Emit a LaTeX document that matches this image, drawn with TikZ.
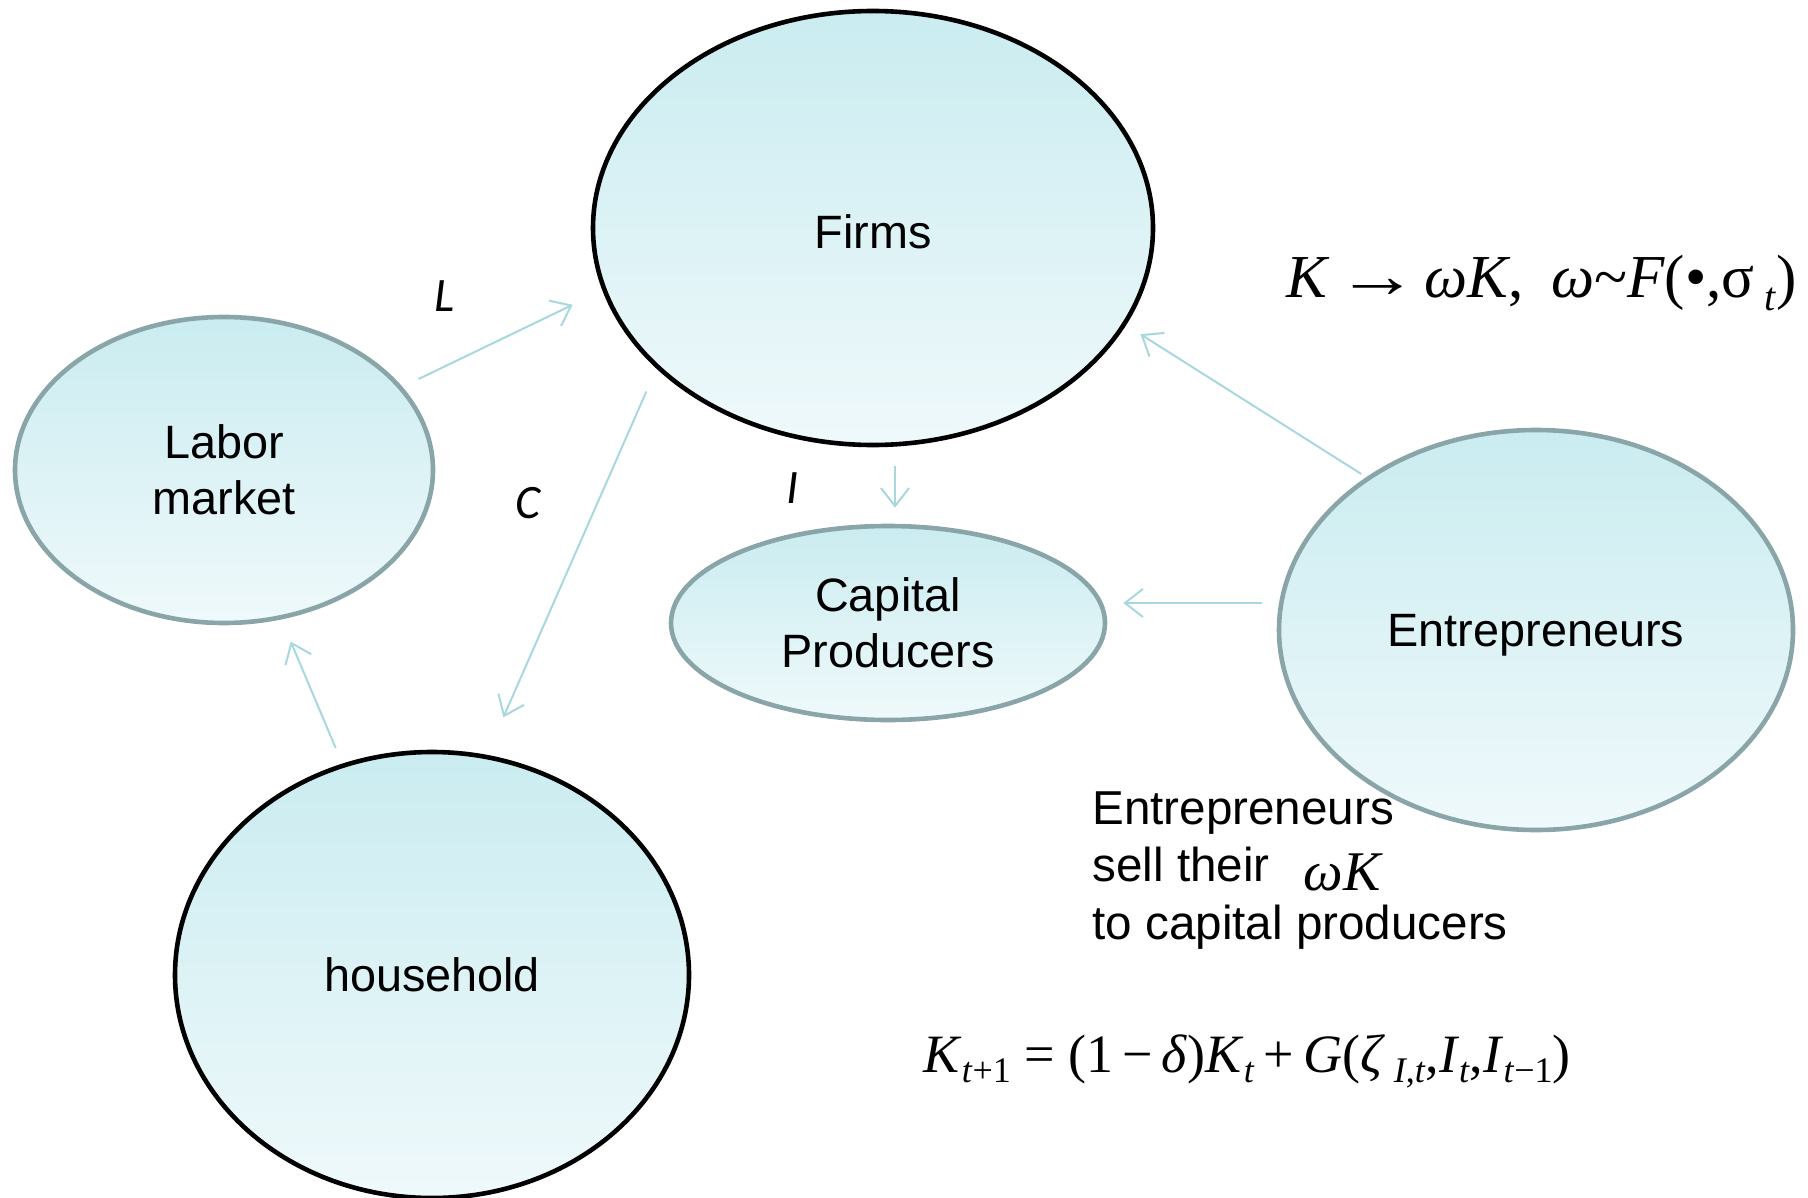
\documentclass[tikz,border=0pt]{standalone}
\usepackage{graphicx}
\usepackage{fontspec}
\setmainfont{Liberation Sans}
\newfontfamily\tms{Liberation Serif}
\newfontfamily\crl{Carlito}
\usetikzlibrary{shapes.geometric,arrows.meta}
\definecolor{edgegray}{RGB}{138,165,168}
\definecolor{filltop}{RGB}{202,236,240}
\definecolor{fillbot}{RGB}{239,249,251}
\definecolor{arrowblue}{RGB}{168,216,222}
\newcommand{\subA}[1]{\raisebox{-0.45ex}{\fontsize{20}{20}\selectfont #1}}
\newcommand{\subB}[1]{\raisebox{-0.4ex}{\fontsize{18}{18}\selectfont #1}}
\begin{document}
\begin{tikzpicture}[x=0.5pt,y=-0.5pt,
  bubble/.style={ellipse, inner sep=0pt, top color=filltop, bottom color=fillbot, align=center, font=\fontsize{23.4}{27.8}\selectfont},
  grayedge/.style={draw=edgegray, line width=2.3pt},
  blackedge/.style={draw=black, line width=2.3pt},
  flow/.style={draw=arrowblue, line width=1pt, -{Straight Barb[length=9pt,width=14pt]}},
  lab/.style={font=\crl\itshape\fontsize{24}{28}\selectfont}]
\useasboundingbox (0,0) rectangle (1808,1198);

\node[bubble, blackedge, minimum width=280pt, minimum height=217pt] (firms) at (873,228) {\raisebox{-1.75pt}[\height][\depth]{Firms}};
\node[bubble, grayedge, minimum width=209pt, minimum height=153pt] (labor) at (224,470) {Labor\\market};
\node[bubble, grayedge, minimum width=217pt, minimum height=97pt] (capital) at (888,623) {Capital\\Producers};
\node[bubble, grayedge, minimum width=257pt, minimum height=200pt, text depth=0pt] (entre) at (1536,630) {Entrepreneurs};
\node[bubble, blackedge, minimum width=257pt, minimum height=223pt] (house) at (432,975) {household};

\draw[flow, shorten <=9pt, shorten >=16.5pt] (labor.25) -- (firms.193.9);
\draw[flow, shorten <=12.5pt, shorten >=20.5pt] (firms.213.6) -- (house.76);
\draw[flow, shorten <=9.5pt, shorten >=8pt] ([xshift=11pt]firms.south) -- ([xshift=3.5pt]capital.north);
\draw[flow, shorten <=8.5pt, shorten >=8pt] (entre.174.7) -- (capital.east |- entre.174.7);
\draw[flow, shorten <=3pt, shorten >=8.5pt] (entre.138.7) -- (firms.-21.8);
\draw[flow, shorten <=8.5pt, shorten >=12pt] (house.113.1) -- (labor.-69.4);

\node[lab] (lL) at (445,296) {L};
\node[lab] (lC) at (528,503) {C};
\node[lab] (lI) at (793,488) {I};

\node[font=\tms\fontsize{30.5}{30.5}\selectfont] (eq1) at (1542,283)
  {\textit{K}\hspace{0.1em}\scalebox{1.35}[1.05]{→}\hspace{0.1em}\textit{ωK},\hspace{0.45em}\textit{ω}\textasciitilde\textit{F}(•,σ\,\subA{\textit{t}})};

\node[anchor=north west, inner sep=0pt, align=left, font=\fontsize{23.8}{28.8}\selectfont] (note) at (1092,791)
  {Entrepreneurs\\sell their\\to capital producers};
\node[font=\tms\itshape\fontsize{28}{28}\selectfont] (wk) at (1342,872) {ωK};

\node[font=\tms\fontsize{27}{27}\selectfont] (eq2) at (1247,1061)
  {\textit{K}\subB{\textit{t}+1} = (1\,−\,\textit{δ})\textit{K}\subB{\textit{t}}\,+\,\textit{G}(\textit{ζ}\,\subB{\textit{I},\textit{t}},\textit{I}\subB{\textit{t}},\textit{I}\subB{\textit{t}−1})};
\end{tikzpicture}
\end{document}
